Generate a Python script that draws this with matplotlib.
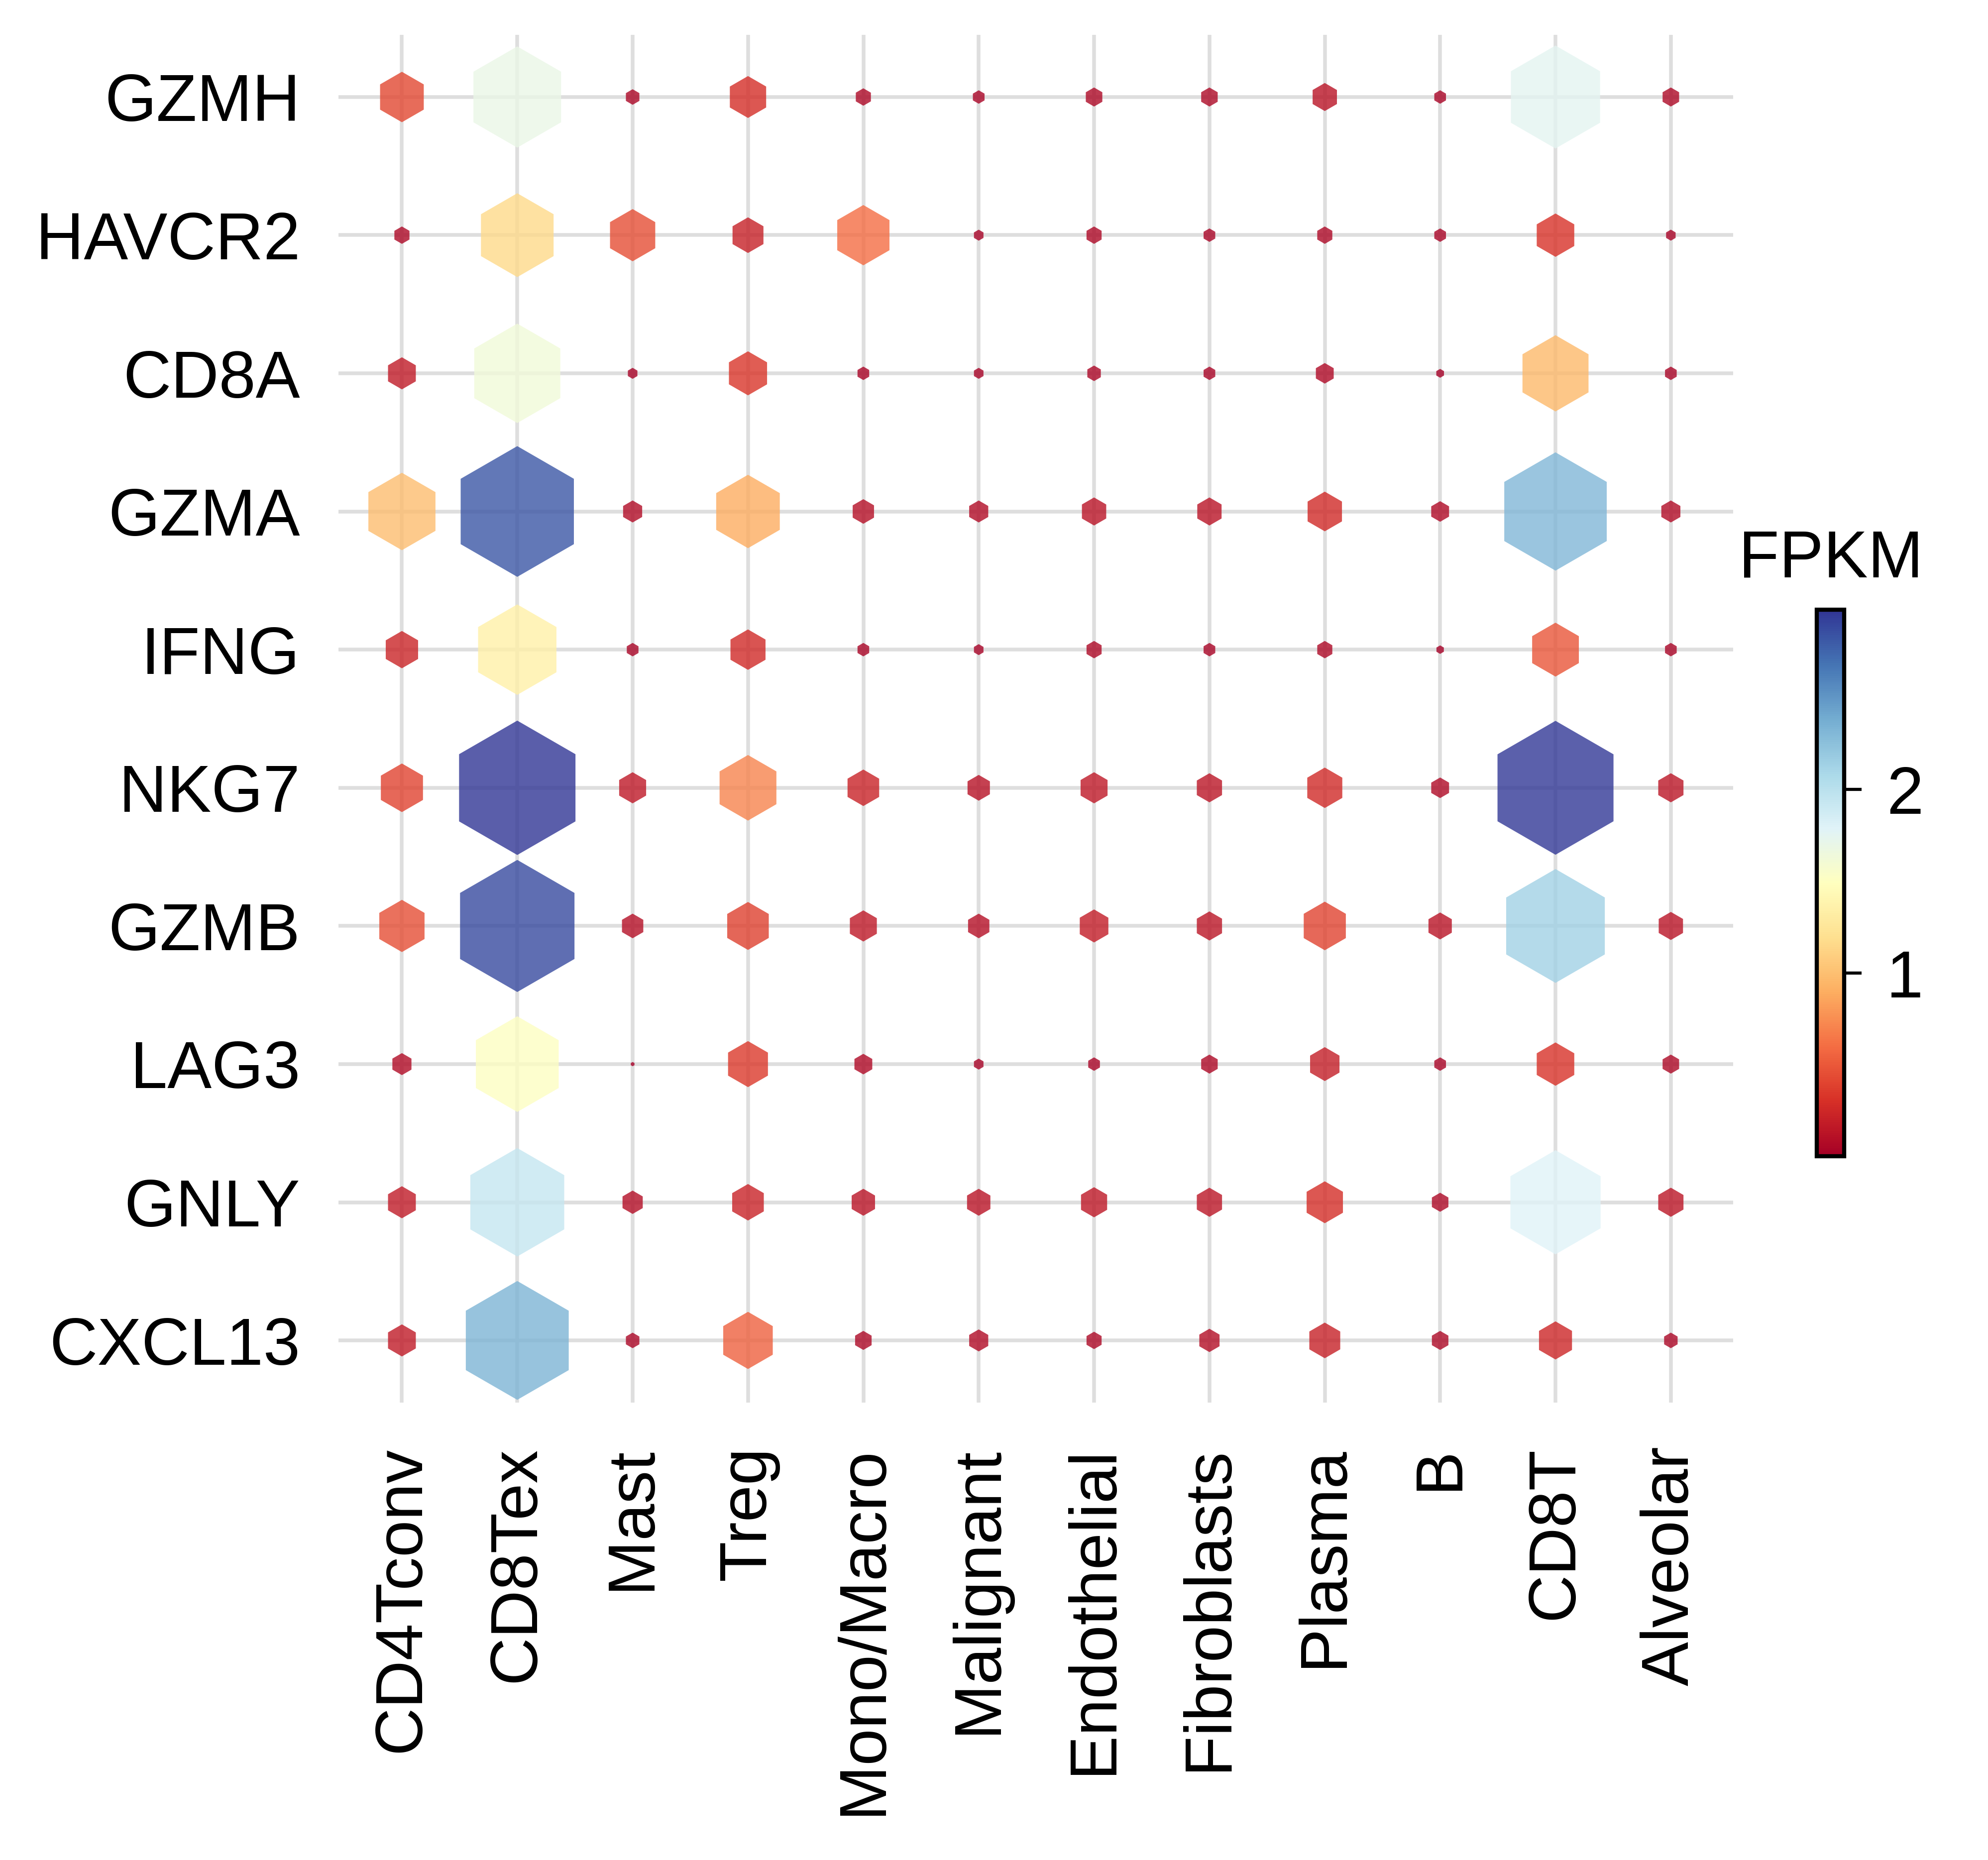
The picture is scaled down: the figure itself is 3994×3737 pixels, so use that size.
import numpy as np
import matplotlib
matplotlib.use("Agg")
import matplotlib.pyplot as plt
from matplotlib.colors import Normalize

plt.rcParams['font.family'] = ['Liberation Sans', 'DejaVu Sans']

cell_types = ["CD4Tconv", "CD8Tex", "Mast", "Treg", "Mono/Macro", "Malignant",
              "Endothelial", "Fibroblasts", "Plasma", "B", "CD8T", "Alveolar"]
genes = ["GZMH", "HAVCR2", "CD8A", "GZMA", "IFNG", "NKG7", "GZMB", "LAG3", "GNLY", "CXCL13"]

GZMH   = [0.42, 1.69, 0.04, 0.29, 0.05, 0.03, 0.06, 0.06, 0.13, 0.03, 1.75, 0.06]
HAVCR2 = [0.05, 1.16, 0.45, 0.21, 0.60, 0.02, 0.05, 0.03, 0.05, 0.03, 0.31, 0.02]
CD8A   = [0.17, 1.63, 0.02, 0.32, 0.03, 0.02, 0.04, 0.03, 0.07, 0.013, 0.96, 0.03]
GZMA   = [0.99, 2.82, 0.08, 0.89, 0.10, 0.08, 0.13, 0.13, 0.26, 0.07, 2.31, 0.08]
IFNG   = [0.23, 1.35, 0.03, 0.27, 0.03, 0.02, 0.05, 0.03, 0.05, 0.012, 0.48, 0.03]
NKG7   = [0.39, 2.98, 0.16, 0.71, 0.22, 0.11, 0.16, 0.14, 0.27, 0.07, 2.96, 0.14]
GZMB   = [0.45, 2.88, 0.10, 0.38, 0.16, 0.10, 0.18, 0.14, 0.39, 0.12, 2.14, 0.13]
LAG3   = [0.08, 1.51, 0.003, 0.35, 0.07, 0.02, 0.03, 0.06, 0.19, 0.03, 0.31, 0.06]
GNLY   = [0.17, 1.94, 0.09, 0.22, 0.12, 0.12, 0.15, 0.14, 0.29, 0.06, 1.79, 0.14]
CXCL13 = [0.17, 2.33, 0.04, 0.54, 0.06, 0.08, 0.05, 0.09, 0.21, 0.06, 0.24, 0.04]

values = np.array([GZMH, HAVCR2, CD8A, GZMA, IFNG, NKG7, GZMB, LAG3, GNLY, CXCL13])

W, H, DPI = 3994, 3737, 300
fig = plt.figure(figsize=(W / DPI, H / DPI), dpi=DPI)

left, right = 680 / W, 3482 / W
top, bottom = 1 - 70 / H, 1 - 2818 / H
ax = fig.add_axes([left, bottom, right - left, top - bottom])

xx, yy = np.meshgrid(np.arange(len(cell_types)), np.arange(len(genes)))
v = values.ravel()
norm = Normalize(vmin=v.min(), vmax=v.max())
smax = 64.8 ** 2
sizes = v / v.max() * smax

sc = ax.scatter(xx.ravel(), yy.ravel(), s=sizes, c=v, cmap='RdYlBu', norm=norm,
                marker='h', alpha=0.8, linewidths=0, zorder=3)

ax.set_xlim(-0.55, len(cell_types) - 1 + 0.54)
ax.set_ylim(len(genes) - 1 + 0.45, -0.45)
ax.set_xticks(np.arange(len(cell_types)))
ax.set_xticklabels(cell_types, rotation=90, fontsize=32)
ax.set_yticks(np.arange(len(genes)))
ax.set_yticklabels(genes, fontsize=32)
ax.tick_params(axis='x', length=0, pad=21)
ax.tick_params(axis='y', length=0, pad=18.5)
ax.grid(True, color='#DEDEDE', linewidth=1.8)
ax.set_axisbelow(True)
for s in ax.spines.values():
    s.set_visible(False)

cax = fig.add_axes([3650 / W, 1 - 2323 / H, 55 / W, 1098 / H])
cb = fig.colorbar(sc, cax=cax)
cb.solids.set_alpha(1)
cb.set_ticks([1, 2])
cb.ax.tick_params(labelsize=32, length=8.4, width=1.5, pad=12)
cb.outline.set_linewidth(2.0)
cb.outline.set_edgecolor('black')
fig.text(3678 / W, 1 - 1159 / H, "FPKM", ha='center', va='baseline', fontsize=32)

fig.savefig("out.png", dpi=DPI)
